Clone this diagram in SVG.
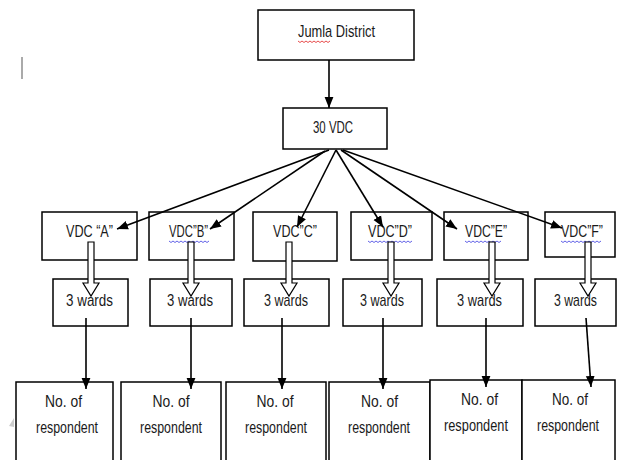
<svg xmlns="http://www.w3.org/2000/svg" width="618" height="460" viewBox="0 0 618 460">
<defs>
<style>
.box{fill:#fff;stroke:#000;stroke-width:1.5}
.t{font-family:"Liberation Sans",Arial,sans-serif;font-size:17px;fill:#1a1a1a;text-anchor:middle}
.ln{stroke:#000;stroke-width:1.6;fill:none}
.blk{fill:#fff;stroke:#000;stroke-width:1.2}
.wr{fill:none;stroke:#e02020;stroke-width:0.8}
.wb{fill:none;stroke:#3a3ae0;stroke-width:0.8}
</style>
<marker id="ah" viewBox="0 0 10 10" refX="10" refY="5" markerWidth="11" markerHeight="11" markerUnits="userSpaceOnUse" orient="auto">
<path d="M0,1 L10,5 L0,9 Z" fill="#000"/>
</marker>
</defs>
<rect width="618" height="460" fill="#fff"/>
<rect x="21" y="57" width="2" height="22" fill="#aaa"/>
<path d="M9,426 L14,418 L14,427 Z" fill="#ccc"/>

<g id="jumla">
<rect class="box" x="258" y="10" width="156" height="50"/>
<text class="t" x="336.5" y="37" textLength="77" lengthAdjust="spacingAndGlyphs">Jumla District</text>
<path class="wr" d="M298,41 l2,1.5 l2,-1.5 l2,1.5 l2,-1.5 l2,1.5 l2,-1.5 l2,1.5 l2,-1.5 l2,1.5 l2,-1.5 l2,1.5 l2,-1.5 l2,1.5 l2,-1.5 l2,1.5 l2,-1.5"/>
</g>
<g id="vdc30">
<rect class="box" x="283" y="108" width="104" height="41"/>
<text class="t" x="333" y="133" textLength="40" lengthAdjust="spacingAndGlyphs">30 VDC</text>
</g>

<g id="vdcA"><rect class="box" x="42" y="212" width="95" height="48"/>
<text class="t" x="89.5" y="237" textLength="47" lengthAdjust="spacingAndGlyphs">VDC “A”</text></g>
<g id="vdcB"><rect class="box" x="149" y="212" width="85" height="48"/>
<text class="t" x="188.5" y="237" textLength="39" lengthAdjust="spacingAndGlyphs">VDC”B”</text>
<path class="wb" d="M169,241 l2,1.5 l2,-1.5 l2,1.5 l2,-1.5 l2,1.5 l2,-1.5 l2,1.5 l2,-1.5 l2,1.5 l2,-1.5 l2,1.5 l2,-1.5 l2,1.5 l2,-1.5 l2,1.5 l2,-1.5 l2,1.5 l2,-1.5 l2,1.5 l2,-1.5"/></g>
<g id="vdcC"><rect class="box" x="253" y="212" width="84" height="49"/>
<text class="t" x="295" y="237" textLength="44" lengthAdjust="spacingAndGlyphs">VDC”C”</text></g>
<g id="vdcD"><rect class="box" x="351" y="212" width="81" height="48"/>
<text class="t" x="390" y="237" textLength="44" lengthAdjust="spacingAndGlyphs">VDC”D”</text>
<path class="wb" d="M368,241 l2,1.5 l2,-1.5 l2,1.5 l2,-1.5 l2,1.5 l2,-1.5 l2,1.5 l2,-1.5 l2,1.5 l2,-1.5 l2,1.5 l2,-1.5 l2,1.5 l2,-1.5 l2,1.5 l2,-1.5 l2,1.5 l2,-1.5 l2,1.5 l2,-1.5 l2,1.5 l2,-1.5"/></g>
<g id="vdcE"><rect class="box" x="444" y="212" width="84" height="48"/>
<text class="t" x="486" y="237" textLength="42" lengthAdjust="spacingAndGlyphs">VDC”E”</text>
<path class="wb" d="M465,241 l2,1.5 l2,-1.5 l2,1.5 l2,-1.5 l2,1.5 l2,-1.5 l2,1.5 l2,-1.5 l2,1.5 l2,-1.5 l2,1.5 l2,-1.5 l2,1.5 l2,-1.5 l2,1.5 l2,-1.5 l2,1.5 l2,-1.5"/></g>
<g id="vdcF"><rect class="box" x="545" y="212" width="70" height="45"/>
<text class="t" x="582" y="237" textLength="42" lengthAdjust="spacingAndGlyphs">VDC”F”</text>
<path class="wb" d="M561,241 l2,1.5 l2,-1.5 l2,1.5 l2,-1.5 l2,1.5 l2,-1.5 l2,1.5 l2,-1.5 l2,1.5 l2,-1.5 l2,1.5 l2,-1.5 l2,1.5 l2,-1.5 l2,1.5 l2,-1.5 l2,1.5 l2,-1.5 l2,1.5 l2,-1.5"/></g>

<g id="wardsA"><rect class="box" x="53" y="279" width="75" height="47"/>
<text class="t" x="89.5" y="306" textLength="47" lengthAdjust="spacingAndGlyphs">3 wards</text></g>
<g id="wardsB"><rect class="box" x="150" y="279" width="82" height="47"/>
<text class="t" x="190" y="306" textLength="46" lengthAdjust="spacingAndGlyphs">3 wards</text></g>
<g id="wardsC"><rect class="box" x="244" y="279" width="85" height="47"/>
<text class="t" x="286" y="306" textLength="44" lengthAdjust="spacingAndGlyphs">3 wards</text></g>
<g id="wardsD"><rect class="box" x="343" y="279" width="79" height="47"/>
<text class="t" x="382" y="306" textLength="44" lengthAdjust="spacingAndGlyphs">3 wards</text></g>
<g id="wardsE"><rect class="box" x="437" y="279" width="86" height="47"/>
<text class="t" x="479.5" y="306" textLength="45" lengthAdjust="spacingAndGlyphs">3 wards</text></g>
<g id="wardsF"><rect class="box" x="535" y="279" width="81" height="47"/>
<text class="t" x="575.5" y="306" textLength="43" lengthAdjust="spacingAndGlyphs">3 wards</text></g>

<g id="resp1"><rect class="box" x="16" y="382" width="97" height="90"/>
<text class="t" x="63.5" y="407" textLength="37" lengthAdjust="spacingAndGlyphs">No. of</text>
<text class="t" x="67" y="433" textLength="62" lengthAdjust="spacingAndGlyphs">respondent</text></g>
<g id="resp2"><rect class="box" x="121" y="382" width="100" height="90"/>
<text class="t" x="171" y="407" textLength="37" lengthAdjust="spacingAndGlyphs">No. of</text>
<text class="t" x="171" y="433" textLength="62" lengthAdjust="spacingAndGlyphs">respondent</text></g>
<g id="resp3"><rect class="box" x="226" y="382" width="100" height="90"/>
<text class="t" x="275" y="407" textLength="37" lengthAdjust="spacingAndGlyphs">No. of</text>
<text class="t" x="276" y="433" textLength="62" lengthAdjust="spacingAndGlyphs">respondent</text></g>
<g id="resp4"><rect class="box" x="329" y="382" width="101" height="90"/>
<text class="t" x="379.5" y="407" textLength="37" lengthAdjust="spacingAndGlyphs">No. of</text>
<text class="t" x="379" y="433" textLength="62" lengthAdjust="spacingAndGlyphs">respondent</text></g>
<g id="resp5"><rect class="box" x="430" y="380" width="92" height="92"/>
<text class="t" x="479.5" y="405" textLength="37" lengthAdjust="spacingAndGlyphs">No. of</text>
<text class="t" x="476" y="431" textLength="64" lengthAdjust="spacingAndGlyphs">respondent</text></g>
<g id="resp6"><rect class="box" x="522" y="380" width="93" height="92"/>
<text class="t" x="570" y="405" textLength="36" lengthAdjust="spacingAndGlyphs">No. of</text>
<text class="t" x="568" y="431" textLength="62" lengthAdjust="spacingAndGlyphs">respondent</text></g>

<g id="connectors">
<line class="ln" x1="329" y1="60" x2="329" y2="108" marker-end="url(#ah)"/>
<line class="ln" x1="329" y1="150" x2="117" y2="229" marker-end="url(#ah)"/>
<line class="ln" x1="325" y1="151" x2="210" y2="229" marker-end="url(#ah)"/>
<line class="ln" x1="336" y1="150" x2="297" y2="227" marker-end="url(#ah)"/>
<line class="ln" x1="336" y1="150" x2="383" y2="227" marker-end="url(#ah)"/>
<line class="ln" x1="341" y1="150" x2="457" y2="229" marker-end="url(#ah)"/>
<line class="ln" x1="343" y1="150" x2="562" y2="228" marker-end="url(#ah)"/>

<polygon class="blk" points="88,242 94,242 94,283 99,283 91,296 83,283 88,283"/>
<polygon class="blk" points="188,242 194,242 194,283 199,283 191,296 183,283 188,283"/>
<polygon class="blk" points="286,242 292,242 292,283 297,283 289,296 281,283 286,283"/>
<polygon class="blk" points="388,242 394,242 394,283 399,283 391,296 383,283 388,283"/>
<polygon class="blk" points="489,242 495,242 495,283 500,283 492,296 484,283 489,283"/>
<polygon class="blk" points="585,242 591,242 591,283 596,283 588,296 580,283 585,283"/>

<line class="ln" x1="86" y1="318" x2="86" y2="389" marker-end="url(#ah)"/>
<line class="ln" x1="191" y1="318" x2="191" y2="389" marker-end="url(#ah)"/>
<line class="ln" x1="282" y1="318" x2="282" y2="389" marker-end="url(#ah)"/>
<line class="ln" x1="383" y1="318" x2="383" y2="389" marker-end="url(#ah)"/>
<line class="ln" x1="486" y1="318" x2="486" y2="387" marker-end="url(#ah)"/>
<line class="ln" x1="586" y1="318" x2="591" y2="387" marker-end="url(#ah)"/>
</g>
</svg>
